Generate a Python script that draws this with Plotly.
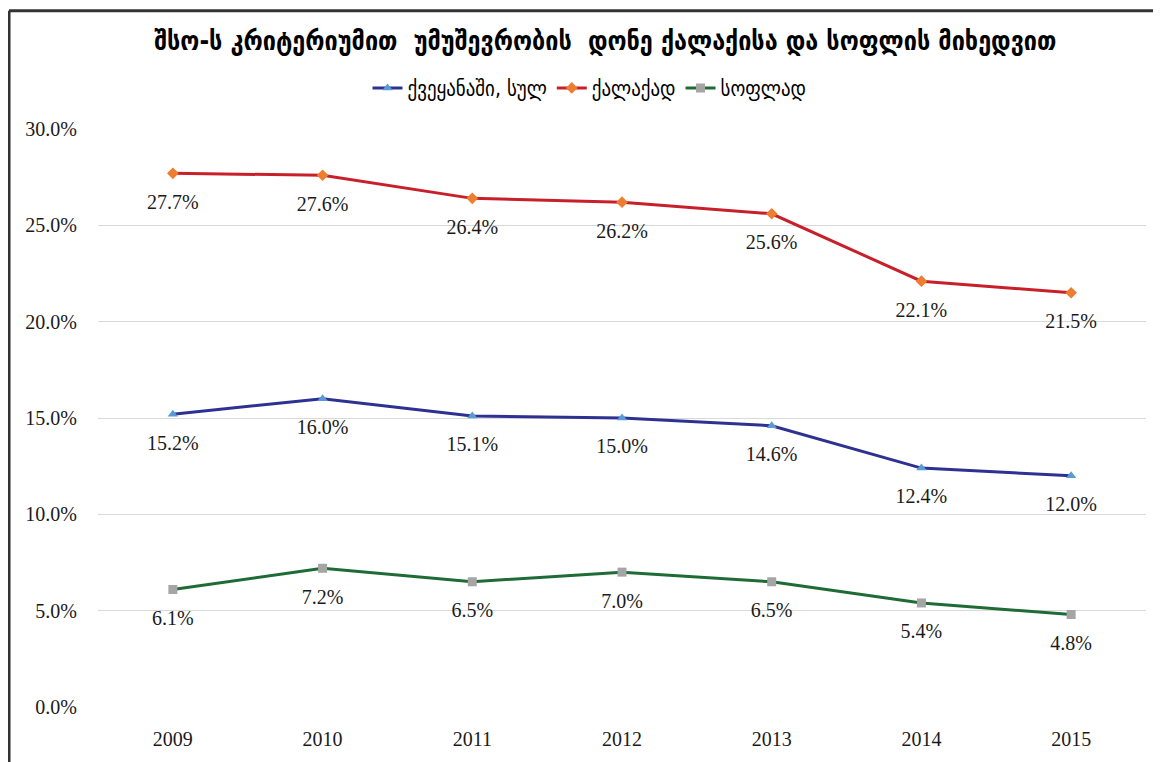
import plotly.graph_objects as go

years = ["2009", "2010", "2011", "2012", "2013", "2014", "2015"]
total = [15.2, 16.0, 15.1, 15.0, 14.6, 12.4, 12.0]
urban = [27.7, 27.6, 26.4, 26.2, 25.6, 22.1, 21.5]
rural = [6.1, 7.2, 6.5, 7.0, 6.5, 5.4, 4.8]
names = ["ქვეყანაში, სულ", "ქალაქად", "სოფლად"]
title = "შსო-ს კრიტერიუმით  უმუშევრობის  დონე ქალაქისა და სოფლის მიხედვით"
ytick_vals = [0, 5, 10, 15, 20, 25, 30]

series = [
    (names[0], total, "#2E3192", "#5B9BD5", "triangle-up", 9),
    (names[1], urban, "#C8202A", "#ED7D31", "diamond", 9),
    (names[2], rural, "#1E6B36", "#A5A5A5", "square", 9),
]

fig = go.Figure()
for name, vals, lc, mc, sym, ms in series:
    fig.add_trace(go.Scatter(
        x=years, y=vals, name=name, mode="lines+markers",
        line=dict(color=lc, width=3),
        marker=dict(color=mc, symbol=sym, size=ms),
    ))
for name, vals, lc, mc, sym, ms in series:
    fig.add_trace(go.Scatter(
        x=years, y=vals, mode="markers+text", showlegend=False, hoverinfo="skip",
        marker=dict(size=31, opacity=0, color="white"),
        text=[f"{v:.1f}%" for v in vals], textposition="bottom center",
        textfont=dict(family="Liberation Serif", size=20, color="#1a1a1a"),
    ))

# frame lines (top and left) -- figure is offset 8px by page body margin
fig.add_shape(type="line", xref="paper", yref="paper", x0=-0.0849, x1=1.03, y0=1.2045, y1=1.2045,
              line=dict(color="#333333", width=3))
fig.add_shape(type="line", xref="paper", yref="paper", x0=-0.0849, x1=-0.0849, y0=1.2045, y1=-0.12,
              line=dict(color="#333333", width=3))

fig.update_layout(
    width=1153, height=754,
    margin=dict(l=90, r=15, t=121, b=51),
    paper_bgcolor="white", plot_bgcolor="white",
    title=dict(text=title, x=0.518, xanchor="center", y=0.957, yanchor="middle",
               font=dict(family="DejaVu Sans Condensed", size=26, color="#000000", weight="bold")),
    legend=dict(orientation="h", x=0.469, xanchor="center", y=1.0704, yanchor="middle",
                font=dict(family="DejaVu Sans Condensed", size=21, color="#000000"),
                itemwidth=30, tracegroupgap=0),
    showlegend=True,
)
fig.update_xaxes(type="category", range=[-0.5, 6.5], showgrid=False, showline=False, zeroline=False,
                 ticks="", ticklabelstandoff=18,
                 tickfont=dict(family="Liberation Serif", size=20, color="#1a1a1a"))
fig.update_yaxes(range=[0, 30], tickvals=ytick_vals, ticktext=[f"{v:.1f}%" for v in ytick_vals],
                 showgrid=True, gridcolor="#D9D9D9", gridwidth=1, zeroline=False, showline=False,
                 ticks="", ticklabelstandoff=20,
                 tickfont=dict(family="Liberation Serif", size=20, color="#1a1a1a"))

fig.write_html("out.html")
